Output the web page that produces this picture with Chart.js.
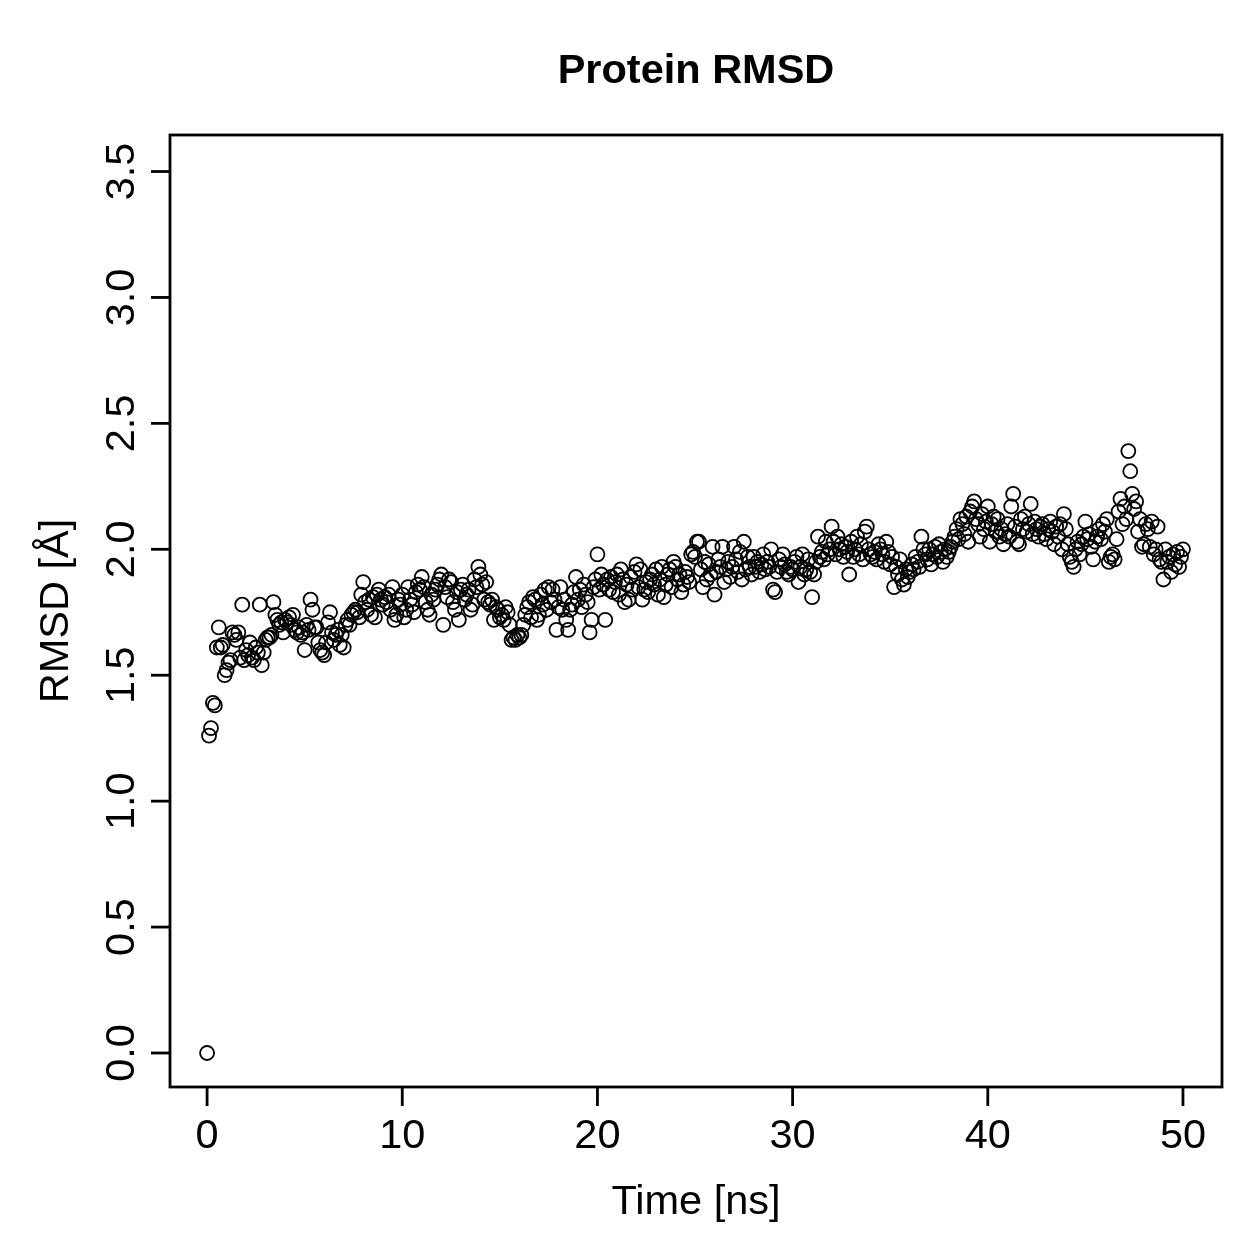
<!DOCTYPE html>
<html><head><meta charset="utf-8">
<script src="https://cdn.jsdelivr.net/npm/chart.js@4/dist/chart.umd.min.js"></script>
<style>html,body{margin:0;padding:0;background:#fff;}</style>
</head><body>
<canvas id="c" width="1259" height="1259"></canvas>
<script>
const titleText = "Protein RMSD";
const xLabel = "Time [ns]";
const yLabel = "RMSD [Å]";
const xTicks = [0, 10, 20, 30, 40, 50];
const yTicks = [0, 0.5, 1, 1.5, 2, 2.5, 3, 3.5];
const yTickLabels = ["0.0", "0.5", "1.0", "1.5", "2.0", "2.5", "3.0", "3.5"];
const timeStep = 0.1; // ns between frames
const rmsd = [
  0.00, 1.26, 1.29, 1.39, 1.38, 1.61, 1.69, 1.61, 1.62, 1.50,
  1.52, 1.55, 1.56, 1.67, 1.66, 1.64, 1.67, 1.57, 1.78, 1.56,
  1.60, 1.58, 1.63, 1.57, 1.56, 1.61, 1.59, 1.78, 1.54, 1.59,
  1.64, 1.65, 1.65, 1.66, 1.79, 1.74, 1.72, 1.70, 1.71, 1.67,
  1.72, 1.71, 1.73, 1.70, 1.74, 1.68, 1.67, 1.69, 1.66, 1.67,
  1.60, 1.70, 1.68, 1.80, 1.76, 1.69, 1.69, 1.63, 1.60, 1.59,
  1.58, 1.63, 1.71, 1.75, 1.67, 1.64, 1.66, 1.68, 1.62, 1.66,
  1.61, 1.70, 1.72, 1.70, 1.74, 1.75, 1.76, 1.75, 1.73, 1.82,
  1.87, 1.79, 1.76, 1.80, 1.74, 1.81, 1.73, 1.82, 1.84, 1.80,
  1.78, 1.81, 1.79, 1.82, 1.76, 1.85, 1.72, 1.74, 1.80, 1.78,
  1.82, 1.73, 1.76, 1.85, 1.80, 1.78, 1.75, 1.83, 1.86, 1.84,
  1.89, 1.85, 1.79, 1.76, 1.74, 1.82, 1.80, 1.84, 1.86, 1.88,
  1.90, 1.70, 1.85, 1.81, 1.88, 1.87, 1.79, 1.76, 1.83, 1.72,
  1.84, 1.86, 1.80, 1.82, 1.84, 1.76, 1.78, 1.88, 1.85, 1.93,
  1.90, 1.86, 1.80, 1.87, 1.79, 1.78, 1.80, 1.72, 1.77, 1.76,
  1.73, 1.74, 1.72, 1.77, 1.75, 1.70, 1.64, 1.65, 1.64, 1.66,
  1.65, 1.66, 1.70, 1.74, 1.77, 1.79, 1.73, 1.81, 1.80, 1.72,
  1.74, 1.82, 1.78, 1.84, 1.76, 1.85, 1.79, 1.84, 1.80, 1.68,
  1.77, 1.85, 1.76, 1.80, 1.72, 1.68, 1.76, 1.78, 1.83, 1.89,
  1.80, 1.84, 1.77, 1.86, 1.82, 1.79, 1.67, 1.72, 1.85, 1.88,
  1.98, 1.84, 1.90, 1.86, 1.72, 1.88, 1.84, 1.89, 1.83, 1.87,
  1.90, 1.82, 1.92, 1.88, 1.79, 1.86, 1.80, 1.89, 1.84, 1.91,
  1.94, 1.85, 1.92, 1.80, 1.84, 1.87, 1.83, 1.88, 1.90, 1.86,
  1.92, 1.82, 1.88, 1.93, 1.81, 1.86, 1.90, 1.92, 1.85, 1.95,
  1.93, 1.88, 1.90, 1.83, 1.86, 1.91, 1.89, 1.87, 1.98, 1.99,
  1.97, 2.03, 2.03, 1.92, 1.85, 1.95, 1.88, 1.94, 1.90, 2.01,
  1.82, 1.91, 1.96, 1.93, 2.01, 1.87, 1.92, 1.95, 1.89, 1.93,
  2.01, 1.96, 1.91, 1.99, 1.88, 2.03, 1.92, 1.97, 1.93, 1.90,
  1.97, 1.93, 1.95, 1.91, 1.94, 1.98, 1.92, 1.95, 1.93, 2.00,
  1.84, 1.83, 1.91, 1.96, 1.93, 1.98, 1.94, 1.91, 1.90, 1.93,
  1.92, 1.95, 1.97, 1.87, 1.93, 1.98, 1.90, 1.92, 1.96, 1.91,
  1.81, 1.90, 1.95, 2.05, 1.97, 1.99, 1.96, 2.03, 1.98, 2.00,
  2.09, 2.03, 1.98, 2.05, 2.00, 2.02, 1.97, 2.01, 1.99, 1.90,
  2.03, 1.97, 2.00, 2.05, 1.98, 2.02, 1.96, 2.07, 2.09, 2.00,
  1.98, 1.97, 1.99, 1.96, 2.02, 2.00, 1.98, 1.95, 2.03, 1.99,
  1.94, 1.97, 1.85, 1.93, 1.90, 1.96, 1.88, 1.86, 1.92, 1.89,
  1.91, 1.94, 1.92, 1.97, 1.95, 1.93, 2.05, 2.00, 1.98, 1.96,
  2.00, 1.94, 1.98, 2.01, 1.97, 2.02, 1.99, 1.95, 2.00, 1.97,
  1.99, 2.01, 2.03, 2.05, 2.08, 2.04, 2.12, 2.10, 2.06, 2.13,
  2.03, 2.15, 2.17, 2.19, 2.12, 2.10, 2.05, 2.14, 2.08, 2.11,
  2.17, 2.03, 2.10, 2.13, 2.07, 2.12, 2.05, 2.08, 2.02, 2.06,
  2.10, 2.05, 2.17, 2.22, 2.09, 2.03, 2.02, 2.12, 2.08, 2.13,
  2.07, 2.10, 2.18, 2.06, 2.11, 2.08, 2.05, 2.09, 2.10, 2.06,
  2.04, 2.08, 2.11, 2.07, 2.02, 2.09, 2.05, 2.10, 2.00, 2.14,
  2.08, 2.02, 1.97, 1.95, 1.93, 2.00, 2.03, 1.98, 2.02, 2.05,
  2.11, 2.04, 2.06, 2.01, 1.96, 2.03, 2.05, 2.08, 2.04, 2.10,
  2.07, 2.12, 1.95, 1.97, 1.98, 1.96, 2.04, 2.15, 2.20, 2.10,
  2.17, 2.12, 2.39, 2.31, 2.22, 2.16, 2.19, 2.07, 2.12, 2.01,
  2.02, 2.10, 2.08, 2.01, 2.11, 1.98, 2.00, 2.09, 1.96, 1.95,
  1.88, 2.00, 1.95, 1.97, 1.91, 1.98, 1.94, 1.99, 1.93, 1.97,
  2.00
];

const points = rmsd.map((v, i) => ({ x: Math.round(i * timeStep * 10) / 10, y: v }));

const FONT = '"Liberation Sans", Arial, Helvetica, sans-serif';

const rFrame = {
  id: 'rFrame',
  afterDraw(chart) {
    const ctx = chart.ctx;
    const ca = chart.chartArea;
    const xs = chart.scales.x, ys = chart.scales.y;
    ctx.save();
    ctx.strokeStyle = '#000';
    ctx.fillStyle = '#000';
    ctx.lineWidth = 2.8;
    ctx.strokeRect(ca.left, ca.top, ca.right - ca.left, ca.bottom - ca.top);
    // x ticks
    ctx.font = '41.5px ' + FONT;
    ctx.textAlign = 'center';
    ctx.textBaseline = 'alphabetic';
    xTicks.forEach(v => {
      const px = xs.getPixelForValue(v);
      ctx.beginPath();
      ctx.moveTo(px, ca.bottom);
      ctx.lineTo(px, ca.bottom + 19);
      ctx.stroke();
      ctx.fillText(String(v), px, 1148);
    });
    // y ticks
    yTicks.forEach((v, i) => {
      const py = ys.getPixelForValue(v);
      ctx.beginPath();
      ctx.moveTo(ca.left, py);
      ctx.lineTo(ca.left - 19, py);
      ctx.stroke();
      ctx.save();
      ctx.translate(134, py);
      ctx.rotate(-Math.PI / 2);
      ctx.fillText(yTickLabels[i], 0, 0);
      ctx.restore();
    });
    // axis titles
    const cx = (ca.left + ca.right) / 2;
    const cy = (ca.top + ca.bottom) / 2;
    ctx.fillText(xLabel, cx, 1214);
    ctx.save();
    ctx.translate(68, cy);
    ctx.rotate(-Math.PI / 2);
    ctx.fillText(yLabel, 0, 0);
    ctx.restore();
    // main title
    ctx.font = 'bold 41.5px ' + FONT;
    ctx.fillText(titleText, cx, 83);
    ctx.restore();
  }
};

new Chart(document.getElementById('c'), {
  type: 'scatter',
  data: {
    datasets: [{
      data: points,
      pointStyle: 'circle',
      pointRadius: 7,
      pointHoverRadius: 7,
      pointBorderWidth: 1.8,
      pointBorderColor: '#000',
      pointBackgroundColor: 'rgba(0,0,0,0)',
      showLine: false
    }]
  },
  options: {
    responsive: false,
    animation: false,
    devicePixelRatio: 1,
    layout: { padding: { left: 170, right: 37, top: 135, bottom: 172 } },
    plugins: { legend: { display: false }, tooltip: { enabled: false }, title: { display: false } },
    scales: {
      x: { type: 'linear', display: false, min: -1.9, max: 52.0 },
      y: { type: 'linear', display: false, min: -0.135, max: 3.645 }
    }
  },
  plugins: [rFrame]
});
</script>
</body></html>
